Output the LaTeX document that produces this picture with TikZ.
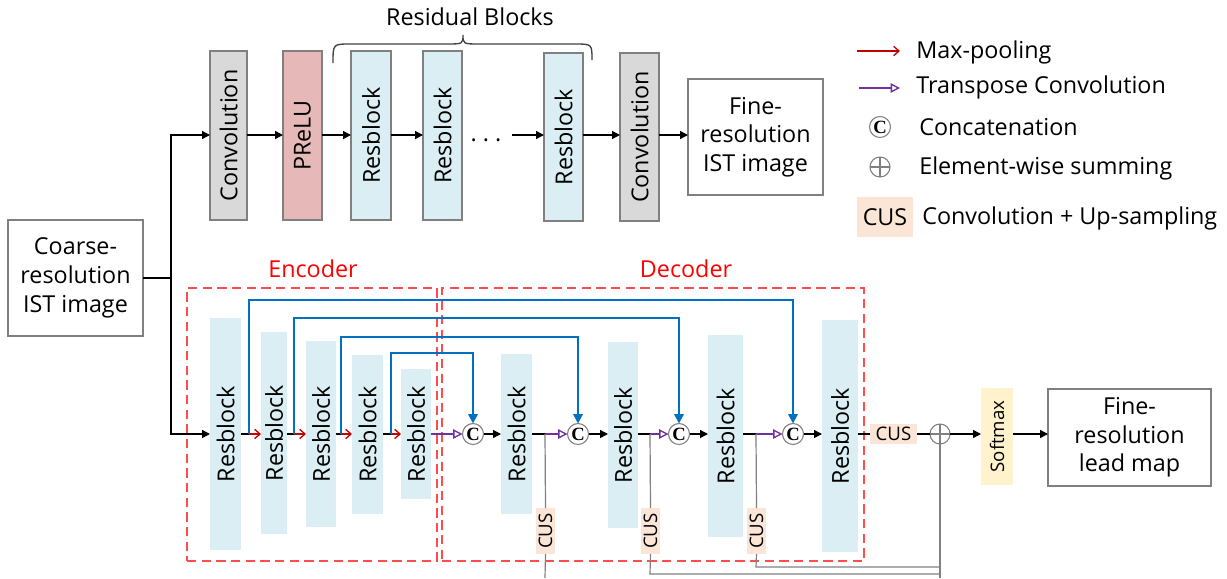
\documentclass[tikz,border=0pt]{standalone}
\usepackage{fontspec}
\setmainfont{Open Sans}
\newfontfamily\serifC{Liberation Serif}
\usepackage{graphicx}
\usetikzlibrary{arrows.meta}
\definecolor{lblue}{HTML}{DAEEF3}
\definecolor{lgray}{HTML}{D9D9D9}
\definecolor{lpink}{HTML}{E6B9B8}
\definecolor{peach}{HTML}{FBE5D6}
\definecolor{lyellow}{HTML}{FFF2CC}
\definecolor{skipc}{HTML}{0070C0}
\definecolor{poolc}{HTML}{C00000}
\definecolor{tconvc}{HTML}{7030A0}
\definecolor{dashred}{HTML}{FF4D4D}
\definecolor{bgray}{HTML}{808080}
\newcommand\mainsz{\fontsize{17.5}{21.5}\selectfont}
\newcommand\cussz{\fontsize{14}{15}\selectfont}
\newcommand\bx[7]{\node[#6, minimum width={(#4-#2)*0.75pt}, minimum height={(#5-#3)*0.75pt}] (#1) at ({(#2+#4)/2},{(#3+#5)/2}) {#7};}
\newcommand\rt[1]{\rotatebox{90}{#1}}
\tikzset{
  topbox/.style={draw=bgray, line width=1.1pt, inner sep=0pt, outer sep=0pt, font=\mainsz, align=center},
  blk/.style={fill=lblue, inner sep=0pt, outer sep=0pt, font=\mainsz},
  cusbox/.style={fill=peach, inner sep=0pt, outer sep=0pt, font=\cussz},
  concat/.style={circle, draw=bgray, line width=0.8pt, minimum size=15.75pt, inner sep=0pt, outer sep=0pt, fill=white, font=\serifC\bfseries\fontsize{14}{14}\selectfont},
  sumc/.style={circle, draw=bgray, line width=0.8pt, minimum size=15pt, inner sep=0pt, outer sep=0pt},
  arr/.style={-{Triangle[length=6pt,width=6pt]}, line width=1.1pt},
  plain/.style={line width=1.1pt},
  poolarr/.style={draw=poolc, -{Straight Barb[length=4pt,width=7pt]}, line width=1pt},
  tarr/.style={draw=tconvc, -{Triangle[open,length=7pt,width=7pt]}, line width=1pt},
  skiparr/.style={draw=skipc, line width=1.5pt, -{Triangle[length=7pt,width=7pt]}},
  grayline/.style={draw=bgray, line width=0.9pt},
  dashbox/.style={draw=dashred, line width=1.1pt, dash pattern=on 7pt off 4pt, inner sep=0pt, outer sep=0pt},
  lgtext/.style={anchor=west, inner sep=0pt, font=\mainsz},
  redlbl/.style={text=red, font=\mainsz}
}
\begin{document}
\begin{tikzpicture}[x=0.75pt, y=-0.75pt]
\useasboundingbox (0,0) rectangle (1227,578);
\coordinate (t) at (0,135);
\coordinate (m) at (0,434);

% dashed group boxes
\bx{encbox}{187}{288}{437}{561}{dashbox}{}
\bx{decbox}{442}{288}{864}{561}{dashbox}{}
\node[redlbl] (enclbl) at (313,269) {Encoder};
\node[redlbl] (declbl) at (686,269) {Decoder};

% top row
\bx{conv1}{210}{51}{247}{220}{topbox,fill=lgray}{\rt{Convolution}}
\bx{prelu}{283}{51}{322}{220}{topbox,fill=lpink}{\rt{PReLU}}
\bx{rt1}{351}{51}{391}{220}{topbox,fill=lblue}{\rt{Resblock}}
\bx{rt2}{423}{51}{462}{220}{topbox,fill=lblue}{\rt{Resblock}}
\bx{rt3}{544}{53}{583}{221}{topbox,fill=lblue}{\rt{Resblock}}
\bx{conv2}{620}{53}{659}{221}{topbox,fill=lgray}{\rt{Convolution}}
\bx{fineist}{688}{79}{823}{195}{topbox}{Fine-\\resolution\\IST image}
\node[font=\mainsz, inner sep=0pt] (dots) at (486,144) {· · ·};
\node[font=\mainsz] (rbtitle) at (470,17) {Residual Blocks};
\draw[line width=1pt, draw=black!75] (333,63) .. controls (333,44) .. (350,44) -- (446,44) .. controls (463,44) .. (463,35) .. controls (463,44) .. (480,44) -- (575,44) .. controls (592,44) .. (592,60);

\draw[arr] (conv1.east |- t) -- (prelu.west |- t);
\draw[arr] (prelu.east |- t) -- (rt1.west |- t);
\draw[arr] (rt1.east |- t) -- (rt2.west |- t);
\draw[arr] (dots.east |- t) ++(10,0) -- (rt3.west |- t);
\draw[arr] (rt3.east |- t) -- (conv2.west |- t);
\draw[arr] (conv2.east |- t) -- (fineist.west |- t);

% input
\bx{coarse}{8}{220}{143}{336}{topbox}{Coarse-\\resolution\\IST image}
\coordinate (split) at (171,278);
\draw[plain] (coarse.east) -- (split);
\draw[arr] (split) |- (conv1.west |- t);

% encoder
\bx{E1}{210}{318}{241}{550}{blk}{\rt{Resblock}}
\bx{E2}{261}{332}{287}{534}{blk}{\rt{Resblock}}
\bx{E3}{306}{341}{336}{527}{blk}{\rt{Resblock}}
\bx{E4}{352}{355}{383}{514}{blk}{\rt{Resblock}}
\bx{E5}{401}{369}{431}{499}{blk}{\rt{Resblock}}
\draw[arr] (split) |- (E1.west |- m);
\coordinate (b1) at (249,434);
\coordinate (b2) at (294,434);
\coordinate (b3) at (341,434);
\coordinate (b4) at (391,434);

% decoder
\bx{D1}{501}{354}{532}{514}{blk}{\rt{Resblock}}
\bx{D2}{608}{342}{638}{528}{blk}{\rt{Resblock}}
\bx{D3}{708}{335}{743}{537}{blk}{\rt{Resblock}}
\bx{D4}{822}{320}{858}{552}{blk}{\rt{Resblock}}
\node[concat] (C1) at (473,434) {C};
\node[concat] (C2) at (578,434) {C};
\node[concat] (C3) at (679,434) {C};
\node[concat] (C4) at (793,434) {C};
\coordinate (p1) at (545,434);
\coordinate (p2) at (650,434);
\coordinate (p3) at (756,434);

\draw[plain] (E1.east |- m) -- (b1);
\draw[plain] (E2.east |- m) -- (b2);
\draw[plain] (E3.east |- m) -- (b3);
\draw[plain] (E4.east |- m) -- (b4);
\draw[poolarr] (b1) -- (E2.west |- m);
\draw[poolarr] (b2) -- (E3.west |- m);
\draw[poolarr] (b3) -- (E4.west |- m);
\draw[poolarr] (b4) -- (E5.west |- m);

\draw[skiparr] (b1) -- ++(0,-134) -| (C4.north);
\draw[skiparr] (b2) -- ++(0,-116) -| (C3.north);
\draw[skiparr] (b3) -- ++(0,-97) -| (C2.north);
\draw[skiparr] (b4) -- ++(0,-81) -| (C1.north);

\draw[tarr] (E5.east |- m) -- (C1.west);
\draw[arr] (C1.east) -- (D1.west |- m);
\draw[plain] (D1.east |- m) -- (p1);
\draw[tarr] (p1) -- (C2.west);
\draw[arr] (C2.east) -- (D2.west |- m);
\draw[plain] (D2.east |- m) -- (p2);
\draw[tarr] (p2) -- (C3.west);
\draw[arr] (C3.east) -- (D3.west |- m);
\draw[plain] (D3.east |- m) -- (p3);
\draw[tarr] (p3) -- (C4.west);
\draw[arr] (C4.east) -- (D4.west |- m);

% CUS side branches
\bx{cus1}{536}{508}{555}{554}{cusbox}{\rt{CUS}}
\bx{cus2}{641}{508}{660}{554}{cusbox}{\rt{CUS}}
\bx{cus3}{747}{508}{766}{554}{cusbox}{\rt{CUS}}
\bx{cusf}{870}{424}{917}{444}{cusbox}{CUS}
\node[sumc] (sumn) at (940,434) {};
\draw[grayline] (sumn.north) -- (sumn.south);
\draw[grayline] (sumn.west) -- (sumn.east);

\coordinate (e1) at (545,578);
\coordinate (e2) at (650,574);
\coordinate (e3) at (756,567);
\coordinate (e4) at (940,578);
\draw[grayline] (p1) -- (cus1.north);
\draw[grayline] (p2) -- (cus2.north);
\draw[grayline] (p3) -- (cus3.north);
\draw[grayline] (cus1.south) -- (e1);
\draw[grayline] (cus2.south) -- (e2) -- (e2 -| sumn);
\draw[grayline] (cus3.south) -- (e3) -- (e3 -| sumn);
\draw[grayline] (e4) -- (sumn.south);

\draw[plain] (D4.east |- m) -- (cusf.west);
\draw[plain] (cusf.east) -- (sumn.west);
\bx{softmax}{981}{388}{1013}{485}{fill=lyellow, inner sep=0pt, outer sep=0pt, font=\cussz}{\rt{Softmax}}
\bx{leadmap}{1048}{389}{1211}{486}{topbox}{Fine-\\resolution\\lead map}
\draw[arr] (sumn.east) -- (softmax.west |- m);
\draw[arr] (softmax.east |- m) -- (leadmap.west |- m);

% legend
\coordinate (l1a) at (857,51);
\coordinate (l1b) at (900,51);
\coordinate (l2a) at (859,88);
\coordinate (l2b) at (900,88);
\draw[poolarr] (l1a) -- (l1b);
\draw[tarr] (l2a) -- (l2b);
\node[lgtext] (lt1) at (916,52) {Max-pooling};
\node[lgtext] (lt2) at (916,87) {Transpose Convolution};
\node[concat] (lgc) at (880,127) {C};
\node[lgtext] (lt3) at (919,127) {Concatenation};
\node[sumc] (lgs) at (880,167) {};
\draw[grayline] (lgs.north) -- (lgs.south);
\draw[grayline] (lgs.west) -- (lgs.east);
\node[lgtext] (lt4) at (919,168) {Element-wise summing};
\bx{lgcus}{857}{197}{913}{237}{cusbox,font=\mainsz}{CUS}
\node[lgtext] (lt5) at (922,218) {Convolution + Up-sampling};
\end{tikzpicture}
\end{document}
